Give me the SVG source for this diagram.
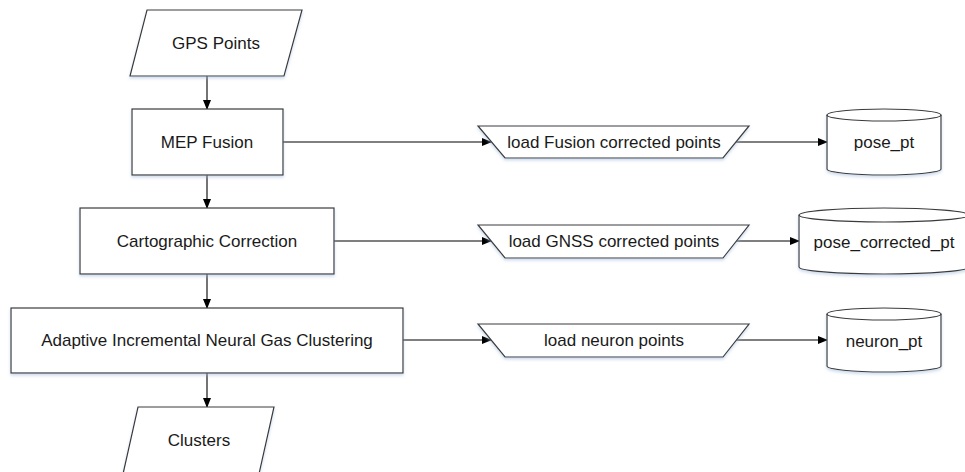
<svg xmlns="http://www.w3.org/2000/svg" width="965" height="472" viewBox="0 0 965 472">
<defs>
<marker id="ah" markerWidth="10" markerHeight="8" refX="9" refY="4" orient="auto" markerUnits="userSpaceOnUse">
<path d="M0,0 L10,4 L0,8 Z" fill="#000"/>
</marker>
<filter id="sh" x="-10%" y="-10%" width="120%" height="130%">
<feDropShadow dx="0" dy="2" stdDeviation="1.5" flood-color="#9db8d9" flood-opacity="0.5"/>
</filter>
</defs>
<style>
.s{fill:#fff;stroke:#3a3a3a;stroke-width:1.2;filter:url(#sh)}
.e{fill:none;stroke:#3a3a3a;stroke-width:1.2}
.t{font-family:"Liberation Sans",Arial,sans-serif;font-size:17px;fill:#1a1a1a;text-anchor:middle;dominant-baseline:central}
.c{stroke:#000;stroke-width:1.1;fill:none;marker-end:url(#ah)}
</style>
<rect width="965" height="472" fill="#fff"/>
<g id="connectors">
<line class="c" x1="207" y1="76" x2="207" y2="109"/>
<line class="c" x1="207" y1="175" x2="207" y2="208"/>
<line class="c" x1="207" y1="274" x2="207" y2="308"/>
<line class="c" x1="207" y1="373" x2="207" y2="407"/>
<line class="c" x1="283" y1="142" x2="491" y2="142"/>
<line class="c" x1="736" y1="142" x2="827" y2="142"/>
<line class="c" x1="334" y1="241" x2="491" y2="241"/>
<line class="c" x1="736" y1="241" x2="799" y2="241"/>
<line class="c" x1="403" y1="340" x2="491" y2="340"/>
<line class="c" x1="736" y1="340" x2="827" y2="340"/>
</g>
<g id="gps">
<polygon class="s" points="147,10 302,10 284,76 130,76"/>
<text class="t" x="216" y="43">GPS Points</text>
</g>
<g id="mep">
<rect class="s" x="132" y="109" width="151" height="66"/>
<text class="t" x="207" y="142">MEP Fusion</text>
</g>
<g id="carto">
<rect class="s" x="80" y="208" width="254" height="66"/>
<text class="t" x="207" y="241">Cartographic Correction</text>
</g>
<g id="aing">
<rect class="s" x="11" y="308" width="392" height="65"/>
<text class="t" x="207" y="340">Adaptive Incremental Neural Gas Clustering</text>
</g>
<g id="clusters">
<polygon class="s" points="138,407 274,407 259,474 123,474"/>
<text class="t" x="199" y="440">Clusters</text>
</g>
<g id="loadFusion">
<polygon class="s" points="478,126 749,126 723,158 505,158"/>
<text class="t" x="614" y="142">load Fusion corrected points</text>
</g>
<g id="loadGNSS">
<polygon class="s" points="478,225 749,225 723,258 505,258"/>
<text class="t" x="614" y="241">load GNSS corrected points</text>
</g>
<g id="loadNeuron">
<polygon class="s" points="478,324 749,324 723,357 505,357"/>
<text class="t" x="614" y="340">load neuron points</text>
</g>
<g id="posePt">
<path class="s" d="M827,115 A57,6 0 0 1 941,115 L941,169 A57,6 0 0 1 827,169 Z"/>
<path class="e" d="M827,115 A57,6 0 0 0 941,115"/>
<text class="t" x="884" y="142">pose_pt</text>
</g>
<g id="poseCorrected">
<path class="s" d="M799,215 A85,7 0 0 1 969,215 L969,267 A85,7 0 0 1 799,267 Z"/>
<path class="e" d="M799,215 A85,7 0 0 0 969,215"/>
<text class="t" x="884" y="242">pose_corrected_pt</text>
</g>
<g id="neuronPt">
<path class="s" d="M827,314 A57,6 0 0 1 941,314 L941,366 A57,6 0 0 1 827,366 Z"/>
<path class="e" d="M827,314 A57,6 0 0 0 941,314"/>
<text class="t" x="884" y="341">neuron_pt</text>
</g>
</svg>
